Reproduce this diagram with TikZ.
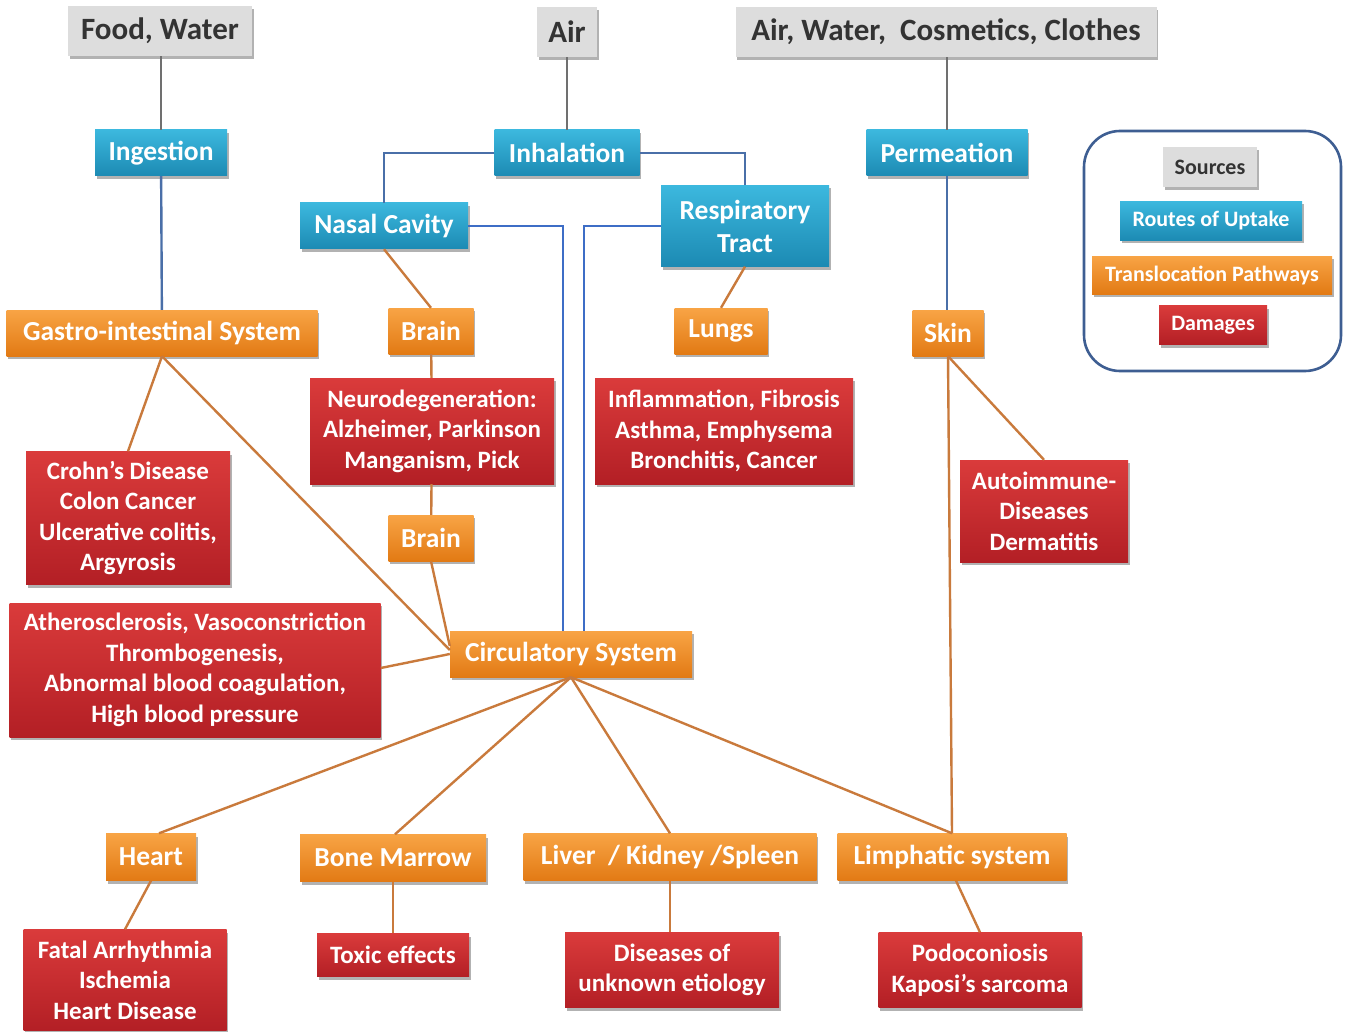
\documentclass[tikz,border=0pt]{standalone}
\usepackage{fontspec}
\setmainfont{Carlito}
\usetikzlibrary{shadows}
\definecolor{srcfill}{HTML}{DDDDDD}
\definecolor{bluetop}{HTML}{3CB8DE}
\definecolor{bluebot}{HTML}{1C8AB3}
\definecolor{orgtop}{HTML}{F8A445}
\definecolor{orgbot}{HTML}{E27A14}
\definecolor{redtop}{HTML}{DA3B3B}
\definecolor{redbot}{HTML}{B31F25}
\definecolor{lnorange}{HTML}{C97A3C}
\definecolor{lngray}{HTML}{707070}
\definecolor{lnblue}{HTML}{4A6FA8}
\definecolor{lnblue2}{HTML}{3D6DC6}
\definecolor{txtdark}{HTML}{333333}
\definecolor{legedge}{HTML}{3E5E92}
\tikzset{
  box/.style={inner sep=0pt, align=center, font=\bfseries\fontsize{27.5}{33}\selectfont,
    drop shadow={shadow xshift=1.5pt, shadow yshift=-3pt, opacity=0.3, fill=black}},
  src/.style={box, fill=srcfill, text=txtdark, font=\bfseries\fontsize{31}{34}\selectfont},
  route/.style={box, top color=bluetop, bottom color=bluebot, text=white},
  trans/.style={box, top color=orgtop, bottom color=orgbot, text=white},
  dmg/.style={box, top color=redtop, bottom color=redbot, text=white, font=\bfseries\fontsize{25}{30.5}\selectfont},
  leg/.style={font=\bfseries\fontsize{22}{24}\selectfont},
  ln/.style={line width=2.4pt},
  lo/.style={ln, draw=lnorange},
  lg/.style={ln, draw=lngray},
  lb/.style={ln, draw=lnblue},
  lb2/.style={ln, draw=lnblue2},
}
\begin{document}
\begin{tikzpicture}[x=1pt,y=1pt]
\useasboundingbox (0,0) rectangle (1348,-1032);
\fill[white] (0,0) rectangle (1348,-1032);
% sources
\node[src, minimum width=184pt, minimum height=50pt] (fw) at (160,-31) {Food, Water};
\node[src, minimum width=60pt, minimum height=50pt] (air) at (567,-32) {Air};
\node[src, minimum width=421pt, minimum height=50pt] (awcc) at (946,-32) {Air, Water,\ \ Cosmetics, Clothes};
% routes
\node[route, minimum width=132pt, minimum height=46pt] (ing) at (161,-153) {Ingestion};
\node[route, minimum width=145pt, minimum height=46pt] (inh) at (567,-153) {Inhalation};
\node[route, minimum width=161pt, minimum height=46pt] (perm) at (947,-153) {Permeation};
\node[route, minimum width=168pt, minimum height=46pt] (nasal) at (384,-226) {Nasal Cavity};
\node[route, minimum width=168pt, minimum height=81pt] (resp) at (745,-226) {Respiratory\\ Tract};
% translocation
\node[trans, minimum width=311pt, minimum height=46pt] (gi) at (162,-333) {Gastro-intestinal System};
\node[trans, minimum width=85pt, minimum height=46pt] (brain1) at (431,-331) {Brain};
\node[trans, minimum width=93pt, minimum height=46pt] (lungs) at (721,-331) {Lungs};
\node[trans, minimum width=71pt, minimum height=46pt] (skin) at (948,-333) {Skin};
\node[trans, minimum width=85pt, minimum height=46pt] (brain2) at (431,-538) {Brain};
\node[trans, minimum width=242pt, minimum height=46pt] (circ) at (571,-654) {Circulatory System};
\node[trans, minimum width=90pt, minimum height=47pt] (heart) at (151,-857) {Heart};
\node[trans, minimum width=186pt, minimum height=47pt] (bone) at (393,-858) {Bone Marrow};
\node[trans, minimum width=293pt, minimum height=47pt] (liver) at (670,-857) {Liver\ \ / Kidney /Spleen};
\node[trans, minimum width=229pt, minimum height=47pt] (limph) at (952,-857) {Limphatic system};
% damages
\node[dmg, minimum width=204pt, minimum height=133pt] (crohn) at (128,-518) {Crohn’s Disease\\ Colon Cancer\\ Ulcerative colitis,\\ Argyrosis};
\node[dmg, minimum width=244pt, minimum height=106pt] (neuro) at (432,-431) {Neurodegeneration:\\ Alzheimer, Parkinson\\ Manganism, Pick};
\node[dmg, minimum width=258pt, minimum height=106pt] (infl) at (724,-431) {Inflammation, Fibrosis\\ Asthma, Emphysema\\ Bronchitis, Cancer};
\node[dmg, minimum width=168pt, minimum height=102pt] (auto) at (1044,-511) {Autoimmune-\\ Diseases\\ Dermatitis};
\node[dmg, minimum width=371pt, minimum height=134pt] (ather) at (195,-670) {Atherosclerosis, Vasoconstriction\\ Thrombogenesis,\\ Abnormal blood coagulation,\\ High blood pressure};
\node[dmg, minimum width=203pt, minimum height=101pt] (fatal) at (125,-980) {Fatal Arrhythmia\\ Ischemia\\ Heart Disease};
\node[dmg, minimum width=152pt, minimum height=43pt] (toxic) at (393,-955) {Toxic effects};
\node[dmg, minimum width=214pt, minimum height=75pt] (unk) at (672,-970) {Diseases of\\ unknown etiology};
\node[dmg, minimum width=203pt, minimum height=75pt] (podo) at (980,-970) {Podoconiosis\\ Kaposi’s sarcoma};
% legend
\draw[legedge, line width=2.6pt, rounded corners=36pt] (1084,-131) rectangle (1341,-371);
\node[src, leg, text=txtdark, minimum width=94pt, minimum height=40pt] (lsrc) at (1210,-167) {Sources};
\node[route, leg, minimum width=182pt, minimum height=39pt] (lroute) at (1211,-221) {Routes of Uptake};
\node[trans, leg, minimum width=240pt, minimum height=38pt] (ltrans) at (1212,-275) {Translocation Pathways};
\node[dmg, leg, minimum width=108pt, minimum height=39pt] (ldmg) at (1213,-325) {Damages};
% connectors: sources to routes
\draw[lg] (ing.north |- fw.south) -- (ing.north);
\draw[lg] (air) -- (inh);
\draw[lg] (awcc.south -| perm.north) -- (perm.north);
% routes
\draw[lb] (ing) -- (gi);
\draw[lb] (perm) -- (perm.south |- skin.north);
\draw[lb] (inh.west) -| (nasal.north);
\draw[lb] (inh.east) -| (resp.north);
\draw[lb2] (nasal.east) -| ([xshift=-8pt]circ.north);
\draw[lb2] (resp.west) -| ([xshift=13pt]circ.north);
% translocation
\draw[lo] (nasal.south) -- (brain1.north);
\draw[lo] (resp.south) -- (lungs.north);
\draw[lo] (brain1) -- (neuro);
\draw[lo] (neuro) -- (brain2);
\draw[lo] (brain2.south) -- ([yshift=8pt]circ.west);
\draw[lo] (gi.south) -- (crohn.north);
\draw[lo] (gi.south) -- ([yshift=4pt]circ.west);
\draw[lo] ([yshift=2pt]ather.east) -- (circ.west);
\draw[lo] (skin.south) -- (auto.north);
\draw[lo] (skin.south) -- (limph.north);
\draw[lo] (circ.south) -- ([xshift=8pt]heart.north);
\draw[lo] (circ.south) -- ([xshift=2pt]bone.north);
\draw[lo] (circ.south) -- (liver.north);
\draw[lo] (circ.south) -- (limph.north);
\draw[lo] (heart.south) -- (fatal.north);
\draw[lo] (bone) -- (toxic);
\draw[lo] (liver.south) -- (liver.south |- unk.north);
\draw[lo] ([xshift=4pt]limph.south) -- (podo.north);
\end{tikzpicture}
\end{document}
